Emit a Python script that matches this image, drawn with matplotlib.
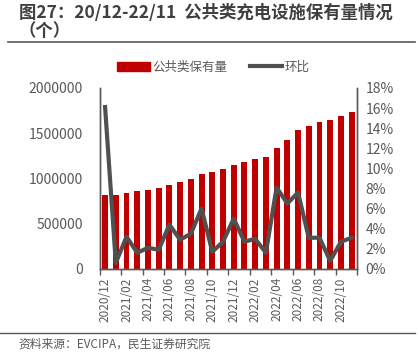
import numpy as np
import matplotlib.pyplot as plt
from matplotlib.lines import Line2D
from matplotlib.patches import Patch

plt.rcParams['font.family'] = ['Noto Sans CJK SC', 'DejaVu Sans']

months = ["2020/12", "2021/01", "2021/02", "2021/03", "2021/04", "2021/05",
          "2021/06", "2021/07", "2021/08", "2021/09", "2021/10", "2021/11",
          "2021/12", "2022/01", "2022/02", "2022/03", "2022/04", "2022/05",
          "2022/06", "2022/07", "2022/08", "2022/09", "2022/10", "2022/11"]
stock = [814000, 814000, 843000, 858000, 873000, 891000, 928000, 958000,
         991000, 1050000, 1072000, 1101000, 1153000, 1186000, 1219000, 1238000,
         1341000, 1425000, 1532000, 1580000, 1628000, 1643000, 1687000, 1735000]
mom = [16.1, 0.6, 3.2, 1.6, 2.1, 1.9, 4.4, 2.9, 3.5, 6.0, 1.7, 2.7,
       5.0, 2.7, 3.0, 1.6, 8.1, 6.5, 7.6, 3.1, 3.1, 0.8, 2.7, 3.1]

red = "#c00000"
grey = "#595959"
x = np.arange(len(months))

fig = plt.figure(figsize=(4.19, 3.59), dpi=100)
ax = fig.add_axes([0.238, 0.251, 0.614, 0.504])
ax2 = ax.twinx()

ax.bar(x, stock, width=0.55, color=red, zorder=2)
ax2.plot(x, np.array(mom) / 100, color="#505050", lw=3, zorder=3)

ax.set_xlim(-0.5, 23.5)
ax.set_ylim(0, 2000000)
yt = np.arange(0, 2000001, 500000)
ax.set_yticks(yt)
ax.set_yticklabels([str(v) for v in yt])
ax2.set_ylim(0, 0.18)
ax2.set_yticks(np.arange(0, 0.181, 0.02))
ax2.set_yticklabels([f"{v}%" for v in range(0, 19, 2)])

ax.set_xticks(x[::2])
ax.set_xticklabels(months[::2], rotation=90)
ax.set_xticks(np.arange(-0.5, 24, 2), minor=True)
ax.tick_params(axis="x", which="major", length=0, pad=6)
ax.tick_params(axis="x", which="minor", length=4, color=grey, width=1)

for a in (ax, ax2):
    a.tick_params(axis="y", length=0, labelsize=10, labelcolor=grey)
    a.spines["top"].set_visible(False)
    for s in ("left", "right", "bottom"):
        a.spines[s].set_color(grey)
        a.spines[s].set_linewidth(1)
ax.tick_params(axis="x", labelsize=8.5, labelcolor=grey)
ax.tick_params(axis="y", pad=12)
ax2.tick_params(axis="y", pad=6)

handles = [Patch(color=red), Line2D([0], [0], color="#505050", lw=3)]
fig.legend(handles, ["公共类保有量", "环比"], loc="center", ncol=2,
           bbox_to_anchor=(0.51, 0.813), frameon=False, fontsize=9,
           labelcolor=grey, handlelength=2.6, handletextpad=0.2,
           columnspacing=1.8)

fig.text(0.045, 0.963, "图27：20/12-22/11  公共类充电设施保有量情况", fontsize=12.5,
         fontweight="bold", color="#404040", va="center")
fig.text(0.045, 0.913, "（个）", fontsize=12.5, fontweight="bold", color="#404040",
         va="center")
fig.add_artist(Line2D([0.02, 0.99], [0.884, 0.884], color=grey, lw=1.2))
fig.add_artist(Line2D([0.0, 0.99], [0.073, 0.073], color=grey, lw=1.0))
fig.text(0.045, 0.04, "资料来源：EVCIPA，民生证券研究院", fontsize=8.5, color=grey,
         va="center")

fig.savefig("out.png", dpi=100)
